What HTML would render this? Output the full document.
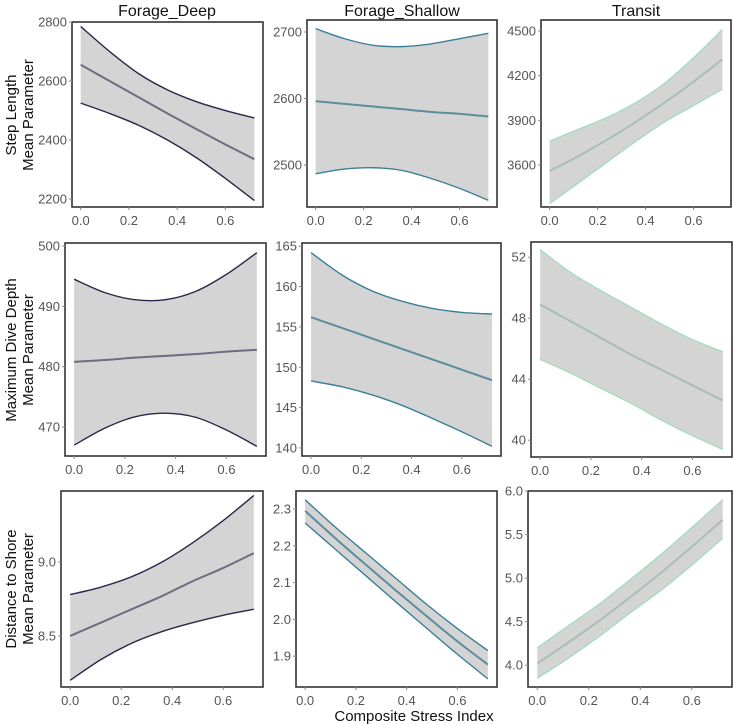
<!DOCTYPE html>
<html><head><meta charset="utf-8">
<style>
html,body{margin:0;padding:0;background:#fff;}
svg{display:block;font-family:"Liberation Sans",Arial,sans-serif;}
.tick{fill:#555;font-size:13px;}
</style></head>
<body>
<svg id="chart" width="733" height="725" viewBox="0 0 733 725" xmlns="http://www.w3.org/2000/svg">
<text x="167" y="16" text-anchor="middle" font-size="16" fill="#111">Forage_Deep</text>
<text x="402" y="16" text-anchor="middle" font-size="16" fill="#111">Forage_Shallow</text>
<text x="636" y="16" text-anchor="middle" font-size="16" fill="#111">Transit</text>
<text transform="translate(18,115) rotate(-90)" text-anchor="middle" font-size="15" fill="#111"><tspan x="0" dy="-2">Step Length</tspan><tspan x="0" dy="17">Mean Parameter</tspan></text>
<text transform="translate(18,350) rotate(-90)" text-anchor="middle" font-size="15" fill="#111"><tspan x="0" dy="-2">Maximum Dive Depth</tspan><tspan x="0" dy="17">Mean Parameter</tspan></text>
<text transform="translate(18,589) rotate(-90)" text-anchor="middle" font-size="15" fill="#111"><tspan x="0" dy="-2">Distance to Shore</tspan><tspan x="0" dy="17">Mean Parameter</tspan></text>
<text x="414" y="721" text-anchor="middle" font-size="15" fill="#111">Composite Stress Index</text>
</svg>
<script>
const xs = [0, 0.12, 0.24, 0.36, 0.48, 0.6, 0.72];
const xTicks = [0, 0.2, 0.4, 0.6];
const xTickLabels = ["0.0", "0.2", "0.4", "0.6"];
const xDomain = [-0.036, 0.756];

const slDeepLower = [2525, 2490, 2450, 2400, 2340, 2270, 2195];
const slDeepMean = [2655, 2600, 2545, 2490, 2437, 2385, 2335];
const slDeepUpper = [2785, 2700, 2625, 2570, 2530, 2500, 2475];
const slDeepTicks = [2200, 2400, 2600, 2800];
const slDeepDomain = [2173, 2800];

const slShallowLower = [2487, 2494, 2496, 2492, 2480, 2465, 2447];
const slShallowMean = [2596, 2592, 2588, 2584, 2580, 2577, 2573];
const slShallowUpper = [2705, 2690, 2680, 2678, 2682, 2690, 2698];
const slShallowTicks = [2500, 2600, 2700];
const slShallowDomain = [2437, 2718];

const slTransitLower = [3340, 3480, 3620, 3760, 3890, 4000, 4110];
const slTransitMean = [3560, 3660, 3770, 3890, 4020, 4160, 4310];
const slTransitUpper = [3760, 3840, 3920, 4020, 4150, 4320, 4510];
const slTransitTicks = [3600, 3900, 4200, 4500];
const slTransitDomain = [3318, 4574];

const mddDeepLower = [467, 469.8, 471.7, 472.3, 471.6, 469.5, 466.8];
const mddDeepMean = [480.8, 481.1, 481.5, 481.8, 482.1, 482.5, 482.8];
const mddDeepUpper = [494.5, 492.3, 491.1, 491.1, 492.5, 495.3, 498.9];
const mddDeepTicks = [470, 480, 490, 500];
const mddDeepDomain = [465.2, 500.5];

const mddShallowLower = [148.3, 147.6, 146.6, 145.3, 143.7, 142, 140.2];
const mddShallowMean = [156.2, 154.9, 153.6, 152.3, 151, 149.7, 148.4];
const mddShallowUpper = [164.2, 161.5, 159.5, 158.2, 157.3, 156.8, 156.6];
const mddShallowTicks = [140, 145, 150, 155, 160, 165];
const mddShallowDomain = [139, 165.4];

const mddTransitLower = [45.3, 44.4, 43.4, 42.4, 41.3, 40.3, 39.4];
const mddTransitMean = [48.9, 47.8, 46.7, 45.6, 44.6, 43.6, 42.6];
const mddTransitUpper = [52.5, 51, 49.8, 48.7, 47.6, 46.6, 45.8];
const mddTransitTicks = [40, 44, 48, 52];
const mddTransitDomain = [38.9, 53];

const dsDeepLower = [8.2, 8.34, 8.45, 8.53, 8.59, 8.64, 8.68];
const dsDeepMean = [8.5, 8.59, 8.68, 8.77, 8.87, 8.96, 9.06];
const dsDeepUpper = [8.78, 8.83, 8.9, 9.0, 9.13, 9.28, 9.45];
const dsDeepTicks = [8.5, 9.0];
const dsDeepDomain = [8.155, 9.48];

const dsShallowLower = [2.262, 2.19, 2.118, 2.046, 1.975, 1.905, 1.838];
const dsShallowMean = [2.295, 2.22, 2.148, 2.077, 2.008, 1.94, 1.877];
const dsShallowUpper = [2.325, 2.25, 2.18, 2.11, 2.04, 1.975, 1.915];
const dsShallowTicks = [1.9, 2.0, 2.1, 2.2, 2.3];
const dsShallowDomain = [1.816, 2.349];

const dsTransitLower = [3.85, 4.08, 4.33, 4.6, 4.86, 5.15, 5.46];
const dsTransitMean = [4.02, 4.26, 4.51, 4.78, 5.06, 5.36, 5.67];
const dsTransitUpper = [4.2, 4.45, 4.7, 4.98, 5.27, 5.58, 5.9];
const dsTransitTicks = [4.0, 4.5, 5.0, 5.5, 6.0];
const dsTransitDomain = [3.75, 6.0];

const NS = "http://www.w3.org/2000/svg";
const svg = document.getElementById("chart");
const styles = {
  deep: {edge: "#2b2748", mean: "#6e6c80"},
  shallow: {edge: "#3c7f98", mean: "#5d8c9c"},
  transit: {edge: "#a6dcbf", mean: "#a9bfb6"}
};
const panels = [
  {name:"step-length-forage-deep", b:[72,22,263,207], lo:slDeepLower, me:slDeepMean, up:slDeepUpper, t:slDeepTicks, d:slDeepDomain, s:"deep", dec:0},
  {name:"step-length-forage-shallow", b:[307,20,497,207], lo:slShallowLower, me:slShallowMean, up:slShallowUpper, t:slShallowTicks, d:slShallowDomain, s:"shallow", dec:0},
  {name:"step-length-transit", b:[541,20,731,207], lo:slTransitLower, me:slTransitMean, up:slTransitUpper, t:slTransitTicks, d:slTransitDomain, s:"transit", dec:0},
  {name:"dive-depth-forage-deep", b:[65,243,266,456], lo:mddDeepLower, me:mddDeepMean, up:mddDeepUpper, t:mddDeepTicks, d:mddDeepDomain, s:"deep", dec:0},
  {name:"dive-depth-forage-shallow", b:[302,243,501,456], lo:mddShallowLower, me:mddShallowMean, up:mddShallowUpper, t:mddShallowTicks, d:mddShallowDomain, s:"shallow", dec:0},
  {name:"dive-depth-transit", b:[531,242,732,457], lo:mddTransitLower, me:mddTransitMean, up:mddTransitUpper, t:mddTransitTicks, d:mddTransitDomain, s:"transit", dec:0},
  {name:"distance-shore-forage-deep", b:[61,491,263,687], lo:dsDeepLower, me:dsDeepMean, up:dsDeepUpper, t:dsDeepTicks, d:dsDeepDomain, s:"deep", dec:1},
  {name:"distance-shore-forage-shallow", b:[296,491,497,687], lo:dsShallowLower, me:dsShallowMean, up:dsShallowUpper, t:dsShallowTicks, d:dsShallowDomain, s:"shallow", dec:1},
  {name:"distance-shore-transit", b:[528,491,732,687], lo:dsTransitLower, me:dsTransitMean, up:dsTransitUpper, t:dsTransitTicks, d:dsTransitDomain, s:"transit", dec:1}
];
function mk(tag, attrs){const e=document.createElementNS(NS,tag);for(const k in attrs)e.setAttribute(k,attrs[k]);return e;}
function smooth(pts){
  let d="M"+pts[0][0].toFixed(2)+","+pts[0][1].toFixed(2);
  for(let i=0;i<pts.length-1;i++){
    const p0=pts[Math.max(0,i-1)],p1=pts[i],p2=pts[i+1],p3=pts[Math.min(pts.length-1,i+2)];
    const c1=[p1[0]+(p2[0]-p0[0])/6,p1[1]+(p2[1]-p0[1])/6];
    const c2=[p2[0]-(p3[0]-p1[0])/6,p2[1]-(p3[1]-p1[1])/6];
    d+=" C"+c1[0].toFixed(2)+","+c1[1].toFixed(2)+" "+c2[0].toFixed(2)+","+c2[1].toFixed(2)+" "+p2[0].toFixed(2)+","+p2[1].toFixed(2);
  }
  return d;
}
panels.forEach(p=>{
  const [x0,y0,x1,y1]=p.b;
  const sx=v=>x0+(v-xDomain[0])/(xDomain[1]-xDomain[0])*(x1-x0);
  const sy=v=>y1-(v-p.d[0])/(p.d[1]-p.d[0])*(y1-y0);
  const g=mk("g",{});
  
  
  svg.appendChild(g);
  const upPts=xs.map((x,i)=>[sx(x),sy(p.up[i])]);
  const loPts=xs.map((x,i)=>[sx(x),sy(p.lo[i])]);
  const mePts=xs.map((x,i)=>[sx(x),sy(p.me[i])]);
  const loRev=loPts.slice().reverse();
  const ribbonD=smooth(upPts)+" L"+smooth(loRev).slice(1)+" Z";
  const rib=mk("path",{d:ribbonD,fill:"#d4d4d4",stroke:"none"});
  
  
  g.appendChild(rib);
  const st=styles[p.s];
  const lu=mk("path",{d:smooth(upPts),fill:"none",stroke:st.edge,"stroke-width":1.4});
  
  
  g.appendChild(lu);
  const ll=mk("path",{d:smooth(loPts),fill:"none",stroke:st.edge,"stroke-width":1.4});
  
  
  g.appendChild(ll);
  const lm=mk("path",{d:smooth(mePts),fill:"none",stroke:st.mean,"stroke-width":2});
  
  
  g.appendChild(lm);
  const fr=mk("rect",{x:x0,y:y0,width:x1-x0,height:y1-y0,fill:"none",stroke:"#333","stroke-width":1.6});
  
  
  g.appendChild(fr);
  p.t.forEach(v=>{
    const y=sy(v);
    const tk=mk("line",{x1:x0-3,x2:x0,y1:y,y2:y,stroke:"#888","stroke-width":1});
    
    
    g.appendChild(tk);
    const tx=mk("text",{x:x0-5,y:y+4.5,"text-anchor":"end",class:"tick"});
    
    
    tx.textContent=v.toFixed(p.dec);
    g.appendChild(tx);
  });
  xTicks.forEach((v,i)=>{
    const x=sx(v);
    const tk=mk("line",{x1:x,x2:x,y1:y1,y2:y1+3,stroke:"#888","stroke-width":1});
    
    
    g.appendChild(tk);
    const tx=mk("text",{x:x,y:y1+18,"text-anchor":"middle",class:"tick"});
    
    
    tx.textContent=xTickLabels[i];
    g.appendChild(tx);
  });
});
</script>
</body></html>
